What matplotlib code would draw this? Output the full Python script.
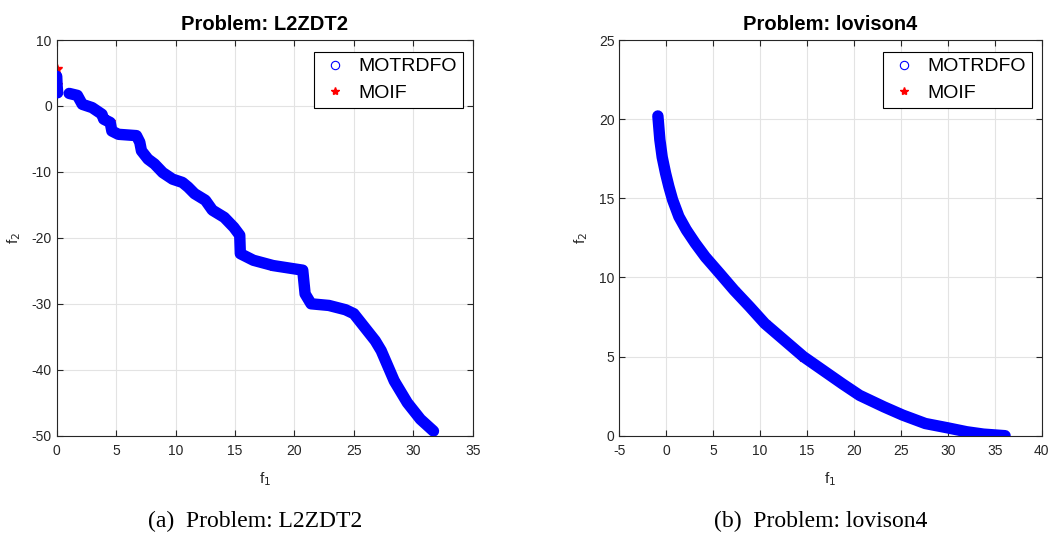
import numpy as np
import matplotlib
matplotlib.use("Agg")
import matplotlib.pyplot as plt
from matplotlib.lines import Line2D

plt.rcParams['font.family'] = ['Liberation Sans', 'DejaVu Sans']
plt.rcParams['axes.unicode_minus'] = False

# L2ZDT2, MOTRDFO front (nan separates the two pieces)
l2_motrdfo_f1 = [0.0, 0.03, 0.08, np.nan,
                 1.05, 1.74, 2.15, 2.98, 3.81, 3.95, 4.5, 4.64, 5.19, 6.71, 6.99, 7.13,
                 7.68, 8.23, 8.92, 9.75, 10.58, 11.05, 11.6, 12.51, 13.1, 14.1, 14.9, 15.4,
                 15.45, 16.55, 18.2, 20.7, 20.9, 21.4, 22.9, 24.3, 25.0, 26.8, 27.3, 28.4,
                 29.5, 30.6, 31.7]
l2_motrdfo_f2 = [4.5, 3.2, 2.0, np.nan,
                 1.9, 1.6, 0.25, -0.25, -1.26, -2.0, -2.5, -3.8, -4.3, -4.5, -5.5, -6.8,
                 -8.06, -8.8, -10.1, -11.1, -11.6, -12.3, -13.3, -14.3, -15.8, -16.9, -18.4, -19.6,
                 -22.4, -23.4, -24.2, -24.9, -28.5, -30.0, -30.25, -30.9, -31.5, -35.6, -37.1, -41.7,
                 -45.0, -47.5, -49.3]
l2_moif_f1 = [0.0, 0.03, 4.5, 9.75, 18.2, 28.4]
l2_moif_f2 = [5.6, 3.2, -2.5, -11.1, -24.2, -41.7]

# lovison4
lov_motrdfo_f1 = [-0.89, -0.68, -0.43, -0.07, 0.28, 0.68, 1.35, 2.14, 3.1, 4.16, 5.7, 7.22,
                  8.9, 10.5, 14.6, 18.76, 20.6, 23.2, 25.2, 27.6, 29.95, 32.0, 33.8, 36.1]
lov_motrdfo_f2 = [20.2, 18.7, 17.6, 16.58, 15.74, 14.9, 13.84, 13.0, 12.15, 11.3, 10.25, 9.2,
                  8.14, 7.09, 5.0, 3.28, 2.55, 1.82, 1.3, 0.77, 0.5, 0.25, 0.1, 0.0]
lov_moif_f1 = [2.14, 4.16, 7.22, 10.5, 14.6]
lov_moif_f2 = [13.0, 11.3, 9.2, 7.09, 5.0]

panels = [
    dict(title="Problem: L2ZDT2", caption="(a)  Problem: L2ZDT2",
         f1=l2_motrdfo_f1, f2=l2_motrdfo_f2, m1=l2_moif_f1, m2=l2_moif_f2,
         xlim=(0, 35), ylim=(-50, 10), xt=np.arange(0, 36, 5), yt=np.arange(-50, 11, 10),
         pos=[56.7, 472.7], cap_x=255),
    dict(title="Problem: lovison4", caption="(b)  Problem: lovison4",
         f1=lov_motrdfo_f1, f2=lov_motrdfo_f2, m1=lov_moif_f1, m2=lov_moif_f2,
         xlim=(-5, 40), ylim=(0, 25), xt=np.arange(-5, 41, 5), yt=np.arange(0, 26, 5),
         pos=[619.3, 1041.7], cap_x=821),
]

W, H = 1051, 539
top, bottom = 40, 435.7
fig = plt.figure(figsize=(W / 100, H / 100), dpi=100)
tc = '#262626'

for p in panels:
    x0, x1 = p['pos']
    ax = fig.add_axes([x0 / W, 1 - bottom / H, (x1 - x0) / W, (bottom - top) / H])
    ax.plot(p['m1'], p['m2'], ls='none', marker='*', color='r', ms=7, zorder=2)
    ax.plot(p['f1'], p['f2'], color='b', lw=8.2, solid_capstyle='round',
            solid_joinstyle='round', zorder=3)
    ax.set_xlim(*p['xlim'])
    ax.set_ylim(*p['ylim'])
    ax.set_xticks(p['xt'])
    ax.set_yticks(p['yt'])
    ax.grid(True, color='#e3e3e3', lw=0.8)
    ax.set_axisbelow(True)
    ax.tick_params(direction='in', top=True, right=True, length=4.5, width=0.8,
                   labelsize=10, colors=tc, labelcolor=tc)
    ax.tick_params(axis='x', pad=6)
    ax.tick_params(axis='y', pad=3.5)
    for s in ax.spines.values():
        s.set_color(tc)
        s.set_linewidth(0.8)
    ax.set_title(p['title'], fontsize=14.5, fontweight='bold', pad=7)
    ax.set_xlabel('f$_1$', fontsize=11, color=tc, labelpad=9)
    ax.set_ylabel('f$_2$', fontsize=11, color=tc, labelpad=6)
    handles = [Line2D([], [], ls='none', marker='o', mfc='none', mec='b', ms=6, mew=0.8),
               Line2D([], [], ls='none', marker='*', color='r', ms=6)]
    aw, ah = x1 - x0, bottom - top
    leg = ax.legend(handles, ['MOTRDFO', 'MOIF'], loc='upper right', fontsize=14,
                    bbox_to_anchor=(1 - 10 / aw, 1 - 12 / ah), borderaxespad=0,
                    fancybox=False, edgecolor='k', framealpha=1,
                    handlelength=1.6, handletextpad=0.4, borderpad=0.3,
                    labelspacing=0.45)
    leg.get_frame().set_linewidth(0.8)
    fig.text(p['cap_x'] / W, 1 - 521 / H, p['caption'], ha='center', va='center',
             fontsize=17, family=['Liberation Serif', 'DejaVu Serif'])

fig.savefig('out.png', dpi=100)
